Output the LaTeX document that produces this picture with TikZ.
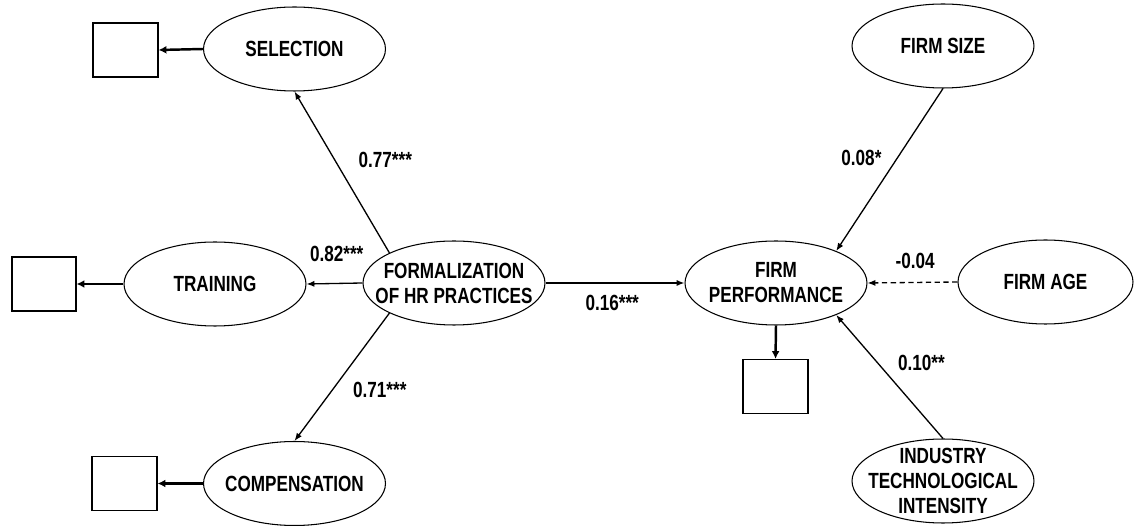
\documentclass[tikz,border=0pt]{standalone}
\usepackage{fontspec}
\setmainfont{Liberation Sans}[FakeStretch=0.78]
\usetikzlibrary{shapes.geometric,arrows.meta}

\begin{document}
\begin{tikzpicture}[x=0.02cm, y=-0.02cm]
    \tikzstyle{every node} = [font=\bfseries\fontsize{12.5}{14.2}\selectfont]
    \tikzstyle{latent} = [ellipse, draw, line width=0.6pt, minimum width=3.64cm, minimum height=1.68cm, inner sep=-1cm, align=center]
    \tikzstyle{obsbox} = [rectangle, draw, line width=0.6pt, minimum width=1.3cm, minimum height=1.08cm, inner sep=0]
    \tikzstyle{coef} = [inner sep=0]
    \tikzstyle{effect} = [-{Latex[length=4.5pt,width=3.5pt]}, line width=0.75pt]
    \tikzstyle{measure} = [-{Latex[length=4.5pt,width=4.5pt]}, line width=1.4pt]

    \useasboundingbox (0,0) rectangle (1136,526);

    \node[latent] (sel) at (294.5,49) {SELECTION};
    \node[latent] (trn) at (215,284) {TRAINING};
    \node[latent] (cmp) at (294.5,483.5) {COMPENSATION};
    \node[latent] (frm) at (454,283) {FORMALIZATION\\OF HR PRACTICES};
    \node[latent] (fp) at (776,283) {FIRM\\PERFORMANCE};
    \node[latent] (size) at (943,46) {FIRM SIZE};
    \node[latent, minimum width=3.5cm] (age) at (1045.5,282) {FIRM AGE};
    \node[latent] (ind) at (943,481) {INDUSTRY\\TECHNOLOGICAL\\INTENSITY};

    \node[obsbox] (selbox) at (125.5,50) {};
    \node[obsbox, minimum width=1.28cm] (trnbox) at (44,284) {};
    \node[obsbox] (cmpbox) at (124.5,483.5) {};
    \node[obsbox] (fpbox) at (775.5,386.5) {};

    \draw[effect] (frm.155) -- (sel.south)
        node[coef, pos=0.574, right=0.46cm]{0.77***};
    \draw[effect] (frm.west) -- (trn.east)
        node[coef, pos=0.46, above=0.42cm]{0.82***};
    \draw[effect] (frm.205) -- (cmp.north)
        node[coef, pos=0.6, right=0.4cm]{0.71***};
    \draw[effect] (frm.east) -- (fp.west)
        node[coef, pos=0.48, below=0.24cm]{0.16***};
    \draw[effect] (size.south) -- (fp.28)
        node[coef, pos=0.43, left=0.3cm]{0.08*};
    \draw[effect, dash pattern=on 3pt off 2pt] (age.west) -- (fp.east)
        node[coef, pos=0.47, above=0.26cm]{-0.04};
    \draw[effect] (ind.north) -- (fp.-28)
        node[coef, pos=0.61, right=0.39cm]{0.10**};

    \draw[measure] (sel.west) -- (selbox.east);
    \draw[measure] (trn.west) -- (trnbox.east);
    \draw[measure] (cmp.west) -- (cmpbox.east);
    \draw[measure] (fp.south) -- (fpbox.north);
\end{tikzpicture}
\end{document}
